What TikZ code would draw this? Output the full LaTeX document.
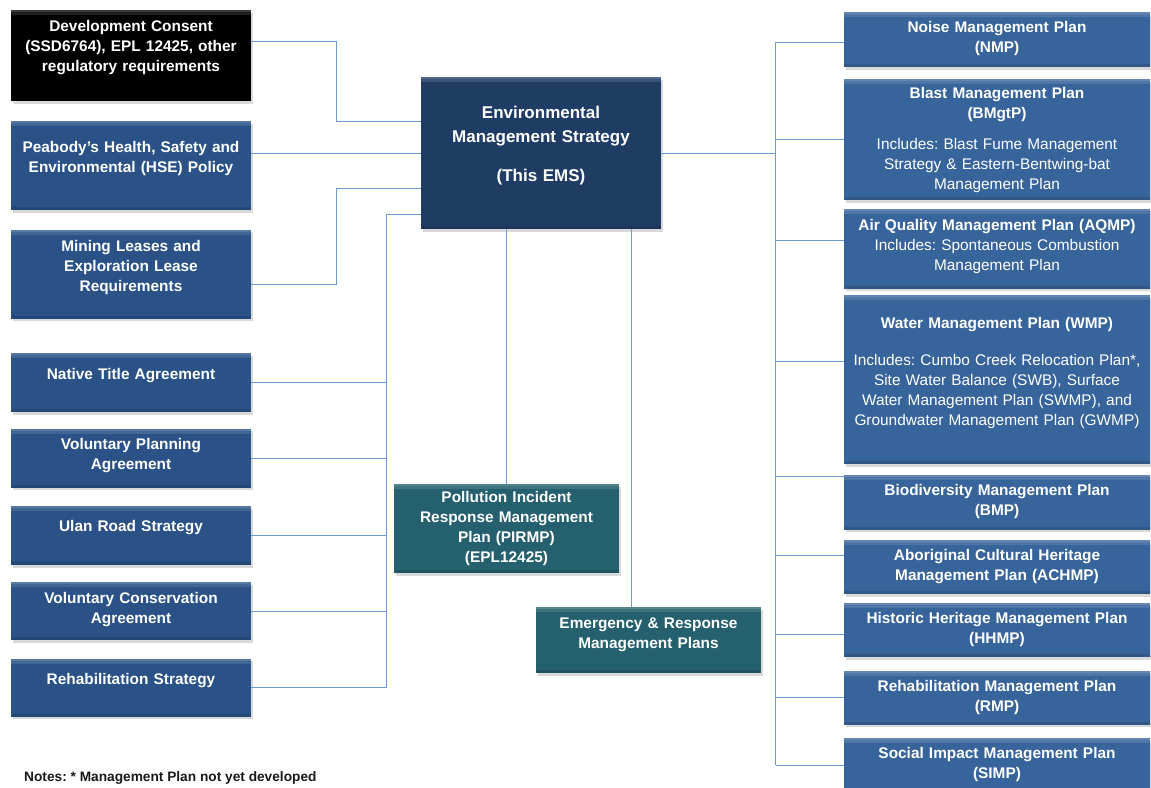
\documentclass[tikz,border=0pt]{standalone}
\usepackage{fontspec}
\setmainfont{Liberation Sans}
\usepackage{xcolor}
\usepackage{tikz}
\usetikzlibrary{positioning}
\usetikzlibrary{shadows}

\definecolor{leftblue}{HTML}{2A5287}
\definecolor{rightblue}{HTML}{37649A}
\definecolor{emsblue}{HTML}{1F3C64}
\definecolor{tealbox}{HTML}{25606E}
\definecolor{wireblue}{HTML}{6A98D3}

% deepens the last line so the text sits higher in its box
\newcommand{\sinkby}[1]{\rule[-#1pt]{0pt}{1pt}}
\frenchspacing

\begin{document}
\begin{tikzpicture}[x=1pt,y=-1pt]
	\tikzset{plan/.style={fill=leftblue,text=white,align=center,inner xsep=5pt,inner ysep=0pt,
			font=\fontsize{15.4}{20}\selectfont\bfseries,
			drop shadow={shadow xshift=1.5pt,shadow yshift=-2.5pt,opacity=0.3},
			path picture={\fill[white,opacity=0.12] (path picture bounding box.north west) rectangle ([yshift=-5pt]path picture bounding box.north east);
				\fill[white,opacity=0.12] (path picture bounding box.north west) rectangle ([yshift=-2pt]path picture bounding box.north east);
				\fill[black,opacity=0.12] (path picture bounding box.south west) rectangle ([yshift=3pt]path picture bounding box.south east);}},
		leftplan/.style={plan,text width=230pt},
		rightplan/.style={plan,fill=rightblue,text width=296pt},
		wire/.style={draw=wireblue,line width=1pt}}

\useasboundingbox (0,0) rectangle (1151,787);

% left column
\node[leftplan,fill=black,minimum height=91pt] (dc) at (131,55.5) {Development Consent\\(SSD6764), EPL 12425, other\\regulatory requirements\sinkby{19}};
\node[leftplan,minimum height=89pt] (hse) [below=20pt of dc] {Peabody’s Health, Safety and\\Environmental (HSE) Policy\sinkby{17}};
\node[leftplan,minimum height=89pt] (mine) [below=19pt of hse] {Mining Leases and\\Exploration Lease\\Requirements\sinkby{17}};
\node[leftplan,minimum height=59pt] (native) [below=34pt of mine] {Native Title Agreement\sinkby{17}};
\node[leftplan,minimum height=59pt] (vpa) [below=16pt of native] {Voluntary Planning\\Agreement\sinkby{9}};
\node[leftplan,minimum height=59pt] (ulan) [below=18pt of vpa] {Ulan Road Strategy\sinkby{19}};
\node[leftplan,minimum height=58pt] (vca) [below=17pt of ulan] {Voluntary Conservation\\Agreement\sinkby{6}};
\node[leftplan,minimum height=58pt] (rehab) [below=18pt of vca] {Rehabilitation Strategy\sinkby{18}};

% centre
\node[plan,fill=emsblue,text width=230pt,minimum height=152pt,font=\fontsize{17}{24}\selectfont\bfseries] (ems) at (541,153) {Environmental\\Management Strategy\\[15pt](This EMS)\sinkby{19}};
\node[plan,fill=tealbox,text width=215pt,minimum height=89pt] (pirmp) at (506.5,528.5) {Pollution Incident\\Response Management\\Plan (PIRMP)\\(EPL12425)};
\node[plan,fill=tealbox,text width=215pt,minimum height=66pt] (erp) at (648.5,640) {Emergency \& Response\\Management Plans\sinkby{14}};

% right column
\node[rightplan,minimum height=55pt] (nmp) at (997,39.5) {Noise Management Plan\\(NMP)\sinkby{5}};
\node[rightplan,minimum height=121pt] (bmgtp) [below=12pt of nmp] {Blast Management Plan\\(BMgtP)\\[11pt]\mdseries Includes: Blast Fume Management\\Strategy \& Eastern-Bentwing-bat\\Management Plan};
\node[rightplan,minimum height=80pt] (aqmp) [below=8pt of bmgtp] {Air Quality Management Plan (AQMP)\\\mdseries Includes: Spontaneous Combustion\\Management Plan\sinkby{8}};
\node[rightplan,minimum height=169pt] (wmp) [below=6pt of aqmp] {Water Management Plan (WMP)\\[17pt]\mdseries Includes: Cumbo Creek Relocation Plan*,\\Site Water Balance (SWB), Surface\\Water Management Plan (SWMP), and\\Groundwater Management Plan (GWMP)\sinkby{17}};
\node[rightplan,minimum height=55pt] (bio) [below=10pt of wmp] {Biodiversity Management Plan\\(BMP)\sinkby{5}};
\node[rightplan,minimum height=54pt] (achmp) [below=10pt of bio] {Aboriginal Cultural Heritage\\Management Plan (ACHMP)\sinkby{4}};
\node[rightplan,minimum height=54pt] (hhmp) [below=9pt of achmp] {Historic Heritage Management Plan\\(HHMP)\sinkby{4}};
\node[rightplan,minimum height=54pt] (rmp) [below=13pt of hhmp] {Rehabilitation Management Plan\\(RMP)\sinkby{4}};
\node[rightplan,minimum height=54pt] (simp) [below=13pt of rmp] {Social Impact Management Plan\\(SIMP)\sinkby{4}};

\node[anchor=west,inner sep=0pt,text=black!90,font=\fontsize{13.7}{16}\selectfont\bfseries] (notes) at (24,778) {Notes: * Management Plan not yet developed};

% left side links
\draw[wire] ([yshift=14.5pt]dc.east) -| ([xshift=-84pt,yshift=32pt]ems.west) -- ([yshift=32pt]ems.west);
\draw[wire] (hse.east |- ems.west) -- (ems.west);
\draw[wire] ([yshift=-10.5pt]mine.east) -| ([xshift=-84pt,yshift=-35pt]ems.west) -- ([yshift=-35pt]ems.west);
\coordinate (lbus) at ([xshift=-34pt,yshift=-61pt]ems.west);
\draw[wire] ([yshift=-61pt]ems.west) -- (lbus) |- (rehab.east);
\foreach \n in {native,vpa,ulan,vca}
	\draw[wire] (\n.east) -- (\n.east -| lbus);

% centre links
\coordinate (pdrop) at (pirmp.north |- ems.south);
\draw[wire] (pdrop) -- (pirmp.north);
\coordinate (edrop) at ([xshift=90pt]ems.south);
\draw[wire] (edrop) -- (edrop |- erp.north);

% right side links
\coordinate (rbus) at ([xshift=-68pt]nmp.west);
\draw[wire] (ems.east) -- (ems.east -| rbus);
\draw[wire] ([yshift=-2.5pt]rbus) -- (rbus |- simp.west);
\foreach \n/\s in {nmp/-2.5,bmgtp/0,aqmp/8,wmp/18.5,bio/25.5,achmp/12,hhmp/-4,rmp/0,simp/0}
	\draw[wire] ([yshift=\s pt]\n.west) -- ++(-68pt,0pt);
\end{tikzpicture}
\end{document}
